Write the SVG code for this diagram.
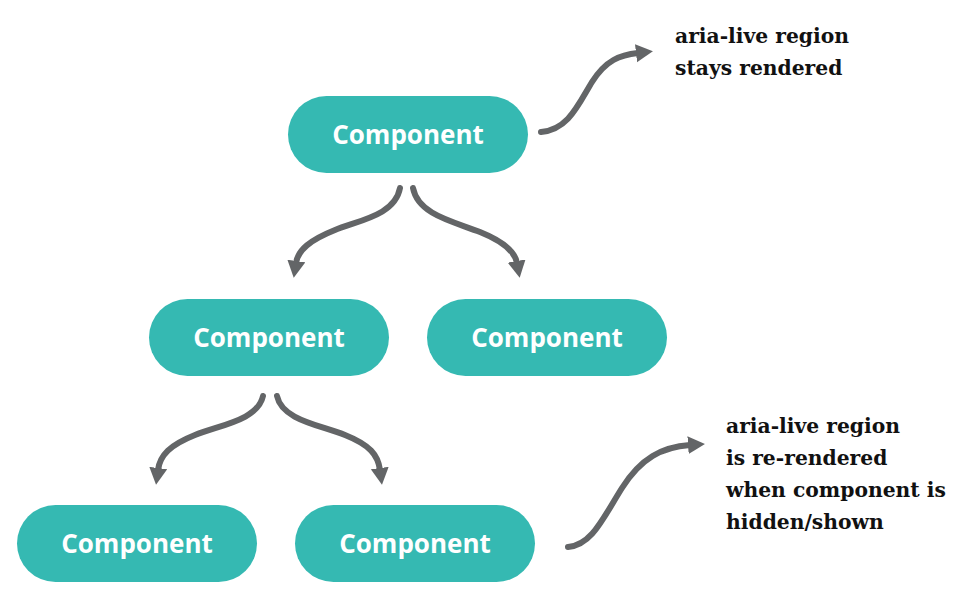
<svg xmlns="http://www.w3.org/2000/svg" width="961" height="605" viewBox="0 0 961 605">
<style>
.node rect{fill:#35b9b2}
.node text{font-family:"Open Sans","Lato",sans-serif;font-weight:700;font-size:26px;fill:#fff;text-anchor:middle}
.conn path{fill:none;stroke:#636567;stroke-width:6;stroke-linecap:round}
.note{font-family:"DejaVu Serif","Liberation Serif",serif;font-weight:700;font-size:20.3px;fill:#111}
</style>
<defs>
<marker id="ah" markerUnits="userSpaceOnUse" markerWidth="20" markerHeight="20" refX="2" refY="9" orient="auto" viewBox="0 0 20 20">
<path d="M0,0 L17,9 L0,18 z" fill="#636567"/>
</marker>
</defs>
<rect width="961" height="605" fill="#fff"/>
<g class="conn">
<path d="M400,188 C395,215 360,220 335,230 C310,240 298,250 296,263" marker-end="url(#ah)"/>
<path d="M413,188 C418,215 455,222 480,232 C505,242 515,252 517,263" marker-end="url(#ah)"/>
<path d="M263,396 C258,420 220,425 195,435 C170,445 160,455 158,470" marker-end="url(#ah)"/>
<path d="M277,396 C282,420 320,425 345,435 C370,445 378,455 380,470" marker-end="url(#ah)"/>
<path d="M541,132 C568,130 578,105 592,82 C606,60 620,55 638,53" marker-end="url(#ah)"/>
<path d="M568,547 C592,545 603,518 622,488 C641,458 662,447 690,445" marker-end="url(#ah)"/>
</g>
<g id="n1" class="node"><rect x="288" y="96" width="240" height="77" rx="38.5"/><text x="408" y="144">Component</text></g>
<g id="n2" class="node"><rect x="149" y="299" width="240" height="77" rx="38.5"/><text x="269" y="347">Component</text></g>
<g id="n3" class="node"><rect x="427" y="299" width="240" height="77" rx="38.5"/><text x="547" y="347">Component</text></g>
<g id="n4" class="node"><rect x="17" y="505" width="240" height="77" rx="38.5"/><text x="137" y="553">Component</text></g>
<g id="n5" class="node"><rect x="295" y="505" width="240" height="77" rx="38.5"/><text x="415" y="553">Component</text></g>
<g id="note1">
<text class="note" x="675" y="43">aria-live region</text>
<text class="note" x="675" y="75">stays rendered</text>
</g>
<g id="note2">
<text class="note" x="726" y="433">aria-live region</text>
<text class="note" x="726" y="465">is re-rendered</text>
<text class="note" x="726" y="497">when component is</text>
<text class="note" x="726" y="529">hidden/shown</text>
</g>
</svg>
